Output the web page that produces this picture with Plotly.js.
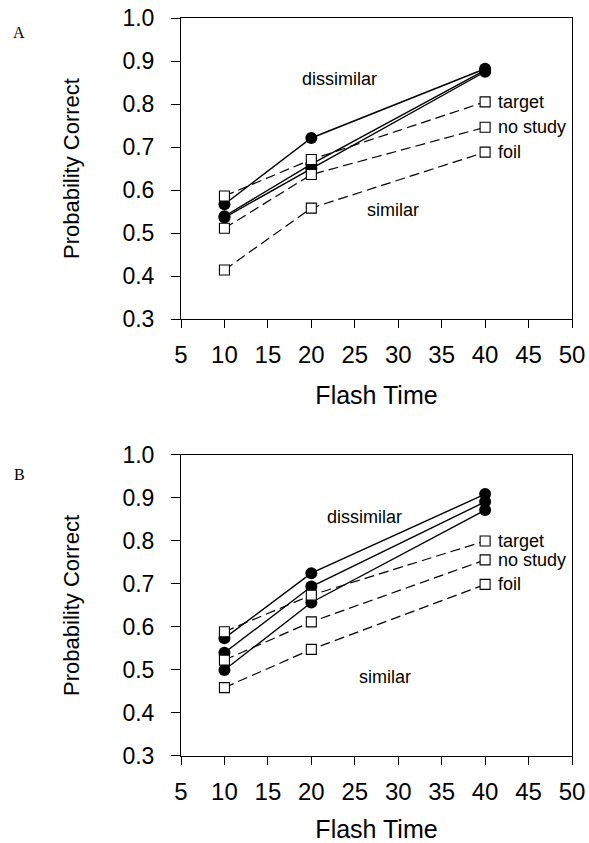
<!DOCTYPE html>
<html>
<head>
<meta charset="utf-8">
<script src="https://cdn.plot.ly/plotly-3.0.1.min.js"></script>
<style>html,body{margin:0;padding:0;background:#fff;}#chart{width:589px;height:843px;}</style>
</head>
<body>
<div id="chart"></div>
<script>
// Flash times (x values)
var flashTime = [10, 20, 40];
var conditions = ["target", "no study", "foil"];

// Panel A
var A_dissimilar_target  = [0.567, 0.721, 0.882];
var A_dissimilar_nostudy = [0.539, 0.660, 0.879];
var A_dissimilar_foil    = [0.536, 0.650, 0.875];
var A_similar_target     = [0.586, 0.671, 0.805];
var A_similar_nostudy    = [0.511, 0.636, 0.746];
var A_similar_foil       = [0.414, 0.558, 0.688];

// Panel B
var B_dissimilar_target  = [0.574, 0.725, 0.909];
var B_dissimilar_nostudy = [0.540, 0.694, 0.891];
var B_dissimilar_foil    = [0.500, 0.657, 0.872];
var B_similar_target     = [0.589, 0.674, 0.800];
var B_similar_nostudy    = [0.523, 0.612, 0.756];
var B_similar_foil       = [0.459, 0.548, 0.699];

var xTicks = [5, 10, 15, 20, 25, 30, 35, 40, 45, 50];
var yTicks = [0.3, 0.4, 0.5, 0.6, 0.7, 0.8, 0.9, 1.0];

var FONT = "Liberation Sans, Arial, Helvetica, sans-serif";

function solid(y, xa, ya) {
  return {x: flashTime, y: y, xaxis: xa, yaxis: ya, type: "scatter", mode: "lines+markers",
    line: {color: "#000", width: 1.4},
    marker: {symbol: "circle", size: 12, color: "#000", line: {width: 0}},
    showlegend: false, hoverinfo: "skip"};
}
function dashed(y, xa, ya) {
  return {x: flashTime, y: y, xaxis: xa, yaxis: ya, type: "scatter", mode: "lines+markers",
    line: {color: "#000", width: 1.2, dash: "10px,5px"},
    marker: {symbol: "square", size: 10, color: "#fff", line: {color: "#000", width: 1.1}},
    showlegend: false, hoverinfo: "skip"};
}

var data = [
  solid(A_dissimilar_target, "x", "y"),
  solid(A_dissimilar_nostudy, "x", "y"),
  solid(A_dissimilar_foil, "x", "y"),
  dashed(A_similar_target, "x", "y"),
  dashed(A_similar_nostudy, "x", "y"),
  dashed(A_similar_foil, "x", "y"),
  solid(B_dissimilar_target, "x2", "y2"),
  solid(B_dissimilar_nostudy, "x2", "y2"),
  solid(B_dissimilar_foil, "x2", "y2"),
  dashed(B_similar_target, "x2", "y2"),
  dashed(B_similar_nostudy, "x2", "y2"),
  dashed(B_similar_foil, "x2", "y2")
];

function xaxisDef(anchor) {
  return {anchor: anchor, range: [5, 50], tickvals: xTicks, ticktext: xTicks.map(String),
    showgrid: false, zeroline: false, showline: true, linecolor: "#000", linewidth: 1,
    mirror: true, ticks: "outside", ticklen: 8, tickcolor: "#000", tickwidth: 1,
    tickfont: {family: FONT, size: 24, color: "#000"}, ticklabelstandoff: 6,
    title: {text: "Flash Time", font: {family: FONT, size: 25, color: "#000"}, standoff: 19}};
}
function yaxisDef(anchor, domain) {
  return {anchor: anchor, domain: domain, range: [0.3, 1.0], tickvals: yTicks,
    ticktext: yTicks.map(function (v) { return v.toFixed(1); }),
    showgrid: false, zeroline: false, showline: true, linecolor: "#000", linewidth: 1,
    mirror: true, ticks: "outside", ticklen: 9, tickcolor: "#000", tickwidth: 1,
    tickfont: {family: FONT, size: 23, color: "#000"}, ticklabelstandoff: 12,
    title: {text: "Probability Correct", font: {family: FONT, size: 22, color: "#000"}, standoff: 36}};
}

function lbl(text, x, y, xref, yref, size, opts) {
  var a = {text: text, x: x, y: y, xref: xref, yref: yref, showarrow: false,
    font: {family: FONT, size: size, color: "#000"}};
  for (var k in opts) a[k] = opts[k];
  return a;
}

var annotations = [
  lbl("dissimilar", 23.2, 0.858, "x", "y", 18, {}),
  lbl("similar", 29.4, 0.553, "x", "y", 18, {}),
  lbl(conditions[0], 40, A_similar_target[2], "x", "y", 18, {xanchor: "left", xshift: 11}),
  lbl(conditions[1], 40, A_similar_nostudy[2], "x", "y", 18, {xanchor: "left", xshift: 11}),
  lbl(conditions[2], 40, A_similar_foil[2], "x", "y", 18, {xanchor: "left", xshift: 11}),
  lbl("dissimilar", 26.1, 0.856, "x2", "y2", 18, {}),
  lbl("similar", 28.5, 0.484, "x2", "y2", 18, {}),
  lbl(conditions[0], 40, B_similar_target[2], "x2", "y2", 18, {xanchor: "left", xshift: 11}),
  lbl(conditions[1], 40, B_similar_nostudy[2], "x2", "y2", 18, {xanchor: "left", xshift: 11}),
  lbl(conditions[2], 40, B_similar_foil[2], "x2", "y2", 18, {xanchor: "left", xshift: 11}),
  {text: "A", xref: "paper", yref: "paper", x: -0.414, y: 0.981, xanchor: "center", yanchor: "middle",
    showarrow: false, font: {family: "Liberation Serif, Times New Roman, serif", size: 16, color: "#000"}},
  {text: "B", xref: "paper", yref: "paper", x: -0.414, y: 0.381, xanchor: "center", yanchor: "middle",
    showarrow: false, font: {family: "Liberation Serif, Times New Roman, serif", size: 16, color: "#000"}}
];

var layout = {
  width: 589, height: 843,
  margin: {l: 181, r: 17, t: 18, b: 87},
  paper_bgcolor: "#fff", plot_bgcolor: "#fff",
  showlegend: false,
  xaxis: xaxisDef("y"),
  yaxis: yaxisDef("x", [0.5921, 1]),
  xaxis2: xaxisDef("y2"),
  yaxis2: yaxisDef("x2", [0, 0.4079]),
  annotations: annotations
};

Plotly.newPlot("chart", data, layout, {staticPlot: true, displayModeBar: false});
</script>
</body>
</html>
